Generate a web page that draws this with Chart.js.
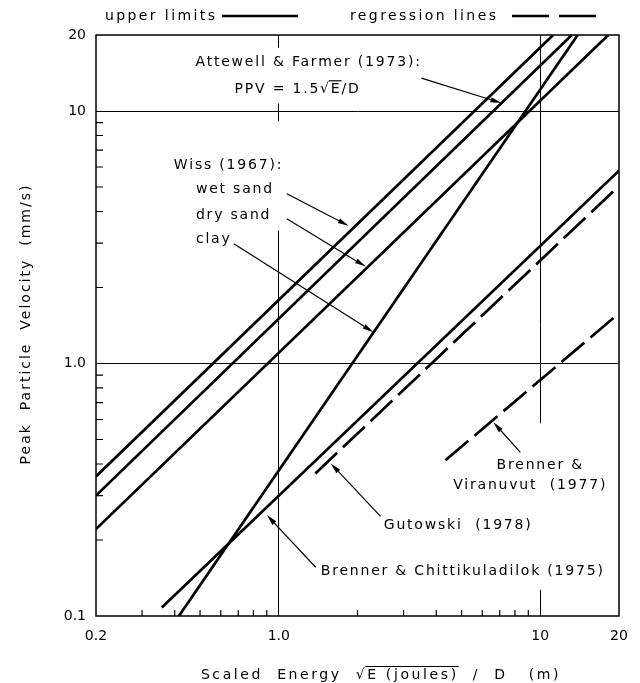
<!DOCTYPE html>
<html>
<head>
<meta charset="utf-8">
<title>Peak Particle Velocity vs Scaled Energy</title>
<script src="https://cdn.jsdelivr.net/npm/chart.js@4"></script>
<style>
  html, body { margin: 0; padding: 0; background: #fff; }
  canvas { display: block; }
</style>
</head>
<body>
<canvas id="chart" width="640" height="683"></canvas>
<script>
const xTickValues = [0.2, 1, 10, 20];
const xTickLabels = ['0.2', '1.0', '10', '20'];
const yTickValues = [0.1, 1, 10, 20];
const yTickLabels = ['0.1', '1.0', '10', '20'];
const xMinorTicks = [0.3, 0.4, 0.5, 0.6, 0.7, 0.8, 0.9, 2, 3, 4, 5, 6, 7, 8, 9];
const yMinorTicks = [0.2, 0.3, 0.4, 0.5, 0.6, 0.7, 0.8, 0.9, 2, 3, 4, 5, 6, 7, 8, 9];

// upper limits (solid lines), end points
const wetSandX = [0.2, 11.2];
const wetSandY = [0.357, 20];
const attewellX = [0.2, 13.2];
const attewellY = [0.3, 20];
const drySandX = [0.2, 18.2];
const drySandY = [0.221, 20];
const clayX = [0.415, 13.9];
const clayY = [0.1, 20];
const chittikuladilokX = [0.357, 20];
const chittikuladilokY = [0.108, 5.8];

// regression lines (dashed)
const gutowskiX = [1.38, 20];
const gutowskiY = [0.367, 5.05];
const viranuvutX = [4.34, 20];
const viranuvutY = [0.414, 1.58];

const FONT = '14px "DejaVu Sans"';
const SPACING = '1.8px';

// text labels, placed in data units
const notes = [
  { text: 'Attewell & Farmer (1973):', x: 1.30, y: 15.8, align: 'center' },
  { text: 'PPV = 1.5√E/D', x: 1.18, y: 12.3, align: 'center', over: 'E' },
  { text: 'Wiss (1967):', x: 0.397, y: 6.18, align: 'left' },
  { text: 'wet sand', x: 0.482, y: 4.96, align: 'left' },
  { text: 'dry sand', x: 0.482, y: 3.92, align: 'left' },
  { text: 'clay', x: 0.482, y: 3.15, align: 'left' },
  { text: 'Brenner &', x: 10.0, y: 0.399, align: 'center' },
  { text: 'Viranuvut  (1977)', x: 9.15, y: 0.332, align: 'center' },
  { text: 'Gutowski  (1978)', x: 2.52, y: 0.231, align: 'left' },
  { text: 'Brenner & Chittikuladilok (1975)', x: 1.447, y: 0.152, align: 'left' }
];

const arrows = [
  { from: [3.51, 13.5], to: [7.1, 10.76] },
  { from: [1.073, 4.70], to: [1.85, 3.51] },
  { from: [1.073, 3.74], to: [2.15, 2.42] },
  { from: [0.673, 2.98], to: [2.3, 1.33] },
  { from: [8.39, 0.445], to: [6.62, 0.585] },
  { from: [2.45, 0.248], to: [1.58, 0.402] },
  { from: [1.384, 0.156], to: [0.90, 0.251] }
];

// breaks in the vertical grid lines behind the labels
const gridGaps = [
  { x: 1, y0: 10.7, y1: 17.8 },
  { x: 1, y0: 3.36, y1: 9.1 },
  { x: 10, y0: 0.127, y1: 0.58 }
];

const pts = (xs, ys) => xs.map((x, i) => ({ x: x, y: ys[i] }));

const solid = (label, xs, ys) => ({
  label: label, data: pts(xs, ys), borderColor: '#000', borderWidth: 2.7,
  pointRadius: 0, fill: false, tension: 0, borderCapStyle: 'butt'
});
const dashed = (label, xs, ys) => ({ ...solid(label, xs, ys), borderDash: [30, 8] });

function toPx(chart, x, y) {
  return { x: chart.scales.x.getPixelForValue(x), y: chart.scales.y.getPixelForValue(y) };
}

function setText(ctx, spacing) {
  ctx.font = FONT;
  ctx.fillStyle = '#000';
  ctx.textBaseline = 'alphabetic';
  ctx.textAlign = 'left';
  if ('letterSpacing' in ctx) ctx.letterSpacing = spacing || SPACING;
}

// writes text with its vertical centre at y; optional overline after the root sign
function writeText(ctx, text, x, y, align, over) {
  const w = ctx.measureText(text).width;
  const left = align === 'center' ? x - w / 2 : x;
  const base = y + 5;
  ctx.fillText(text, left, base);
  if (over) {
    const i = text.indexOf('√') + 1;
    const x0 = left + ctx.measureText(text.slice(0, i)).width - 2;
    const x1 = left + ctx.measureText(text.slice(0, i + over.length)).width;
    ctx.beginPath();
    ctx.lineWidth = 1.2;
    ctx.moveTo(x0, base - 12.5);
    ctx.lineTo(x1, base - 12.5);
    ctx.stroke();
  }
}

function drawArrow(ctx, a, b) {
  const ang = Math.atan2(b.y - a.y, b.x - a.x);
  const len = 11, half = 2.6;
  const bx = b.x - len * Math.cos(ang), by = b.y - len * Math.sin(ang);
  ctx.beginPath();
  ctx.lineWidth = 1.2;
  ctx.moveTo(a.x, a.y);
  ctx.lineTo(bx, by);
  ctx.stroke();
  ctx.beginPath();
  ctx.moveTo(b.x, b.y);
  ctx.lineTo(bx + half * Math.sin(ang), by - half * Math.cos(ang));
  ctx.lineTo(bx - half * Math.sin(ang), by + half * Math.cos(ang));
  ctx.closePath();
  ctx.fill();
}

const notesPlugin = {
  id: 'notes',
  beforeDatasetsDraw(chart) {
    const { ctx } = chart;
    ctx.save();
    ctx.strokeStyle = '#fff';
    ctx.lineWidth = 4;
    ctx.beginPath();
    gridGaps.forEach(g => {
      const a = toPx(chart, g.x, g.y0), b = toPx(chart, g.x, g.y1);
      ctx.moveTo(a.x, a.y);
      ctx.lineTo(b.x, b.y);
    });
    ctx.stroke();
    ctx.restore();
  },
  afterDatasetsDraw(chart) {
    const { ctx, chartArea: area } = chart;
    ctx.save();
    ctx.strokeStyle = '#000';
    ctx.fillStyle = '#000';

    // frame
    ctx.lineWidth = 1.5;
    ctx.strokeRect(area.left, area.top, area.right - area.left, area.bottom - area.top);

    // minor ticks inside bottom and left axes
    ctx.lineWidth = 1.2;
    ctx.beginPath();
    xMinorTicks.forEach(v => {
      const px = chart.scales.x.getPixelForValue(v);
      ctx.moveTo(px, area.bottom);
      ctx.lineTo(px, area.bottom - 6);
    });
    yMinorTicks.forEach(v => {
      const py = chart.scales.y.getPixelForValue(v);
      ctx.moveTo(area.left, py);
      ctx.lineTo(area.left + 7, py);
    });
    ctx.stroke();

    // labels and arrows
    setText(ctx);
    notes.forEach(n => {
      const p = toPx(chart, n.x, n.y);
      writeText(ctx, n.text, p.x, p.y, n.align, n.over);
    });
    arrows.forEach(a => drawArrow(ctx, toPx(chart, a.from[0], a.from[1]), toPx(chart, a.to[0], a.to[1])));

    // key at top
    setText(ctx, '2.4px');
    writeText(ctx, 'upper limits', 105, 15, 'left');
    writeText(ctx, 'regression lines', 350, 15, 'left');
    ctx.lineWidth = 2.5;
    ctx.beginPath();
    ctx.moveTo(222, 16);
    ctx.lineTo(298, 16);
    ctx.stroke();
    ctx.setLineDash([37, 10]);
    ctx.beginPath();
    ctx.moveTo(512, 16);
    ctx.lineTo(596, 16);
    ctx.stroke();
    ctx.setLineDash([]);

    // axis titles
    setText(ctx, '2.6px');
    writeText(ctx, 'Scaled  Energy  √E (joules)  /  D   (m)', 381, 674, 'center', 'E (joules)');
    setText(ctx, '2px');
    ctx.translate(25, 324);
    ctx.rotate(-Math.PI / 2);
    writeText(ctx, 'Peak  Particle  Velocity  (mm/s)', 0, 0, 'center');
    ctx.restore();
  }
};

const gridColor = c => (c.tick && (c.tick.value === 1 || c.tick.value === 10)) ? '#000' : 'rgba(0,0,0,0)';

new Chart(document.getElementById('chart'), {
  type: 'line',
  data: {
    datasets: [
      solid('Wiss (1967): wet sand', wetSandX, wetSandY),
      solid('Attewell & Farmer (1973)', attewellX, attewellY),
      solid('Wiss (1967): dry sand', drySandX, drySandY),
      solid('Wiss (1967): clay', clayX, clayY),
      solid('Brenner & Chittikuladilok (1975)', chittikuladilokX, chittikuladilokY),
      dashed('Gutowski (1978)', gutowskiX, gutowskiY),
      dashed('Brenner & Viranuvut (1977)', viranuvutX, viranuvutY)
    ]
  },
  options: {
    responsive: false,
    animation: false,
    layout: { padding: { left: 0, right: 21, top: 35, bottom: 0 } },
    plugins: { legend: { display: false }, tooltip: { enabled: false } },
    scales: {
      x: {
        type: 'logarithmic',
        min: 0.2,
        max: 20,
        afterFit: s => { s.height = 67; },
        afterBuildTicks: s => { s.ticks = xTickValues.map(v => ({ value: v })); },
        ticks: {
          autoSkip: false,
          maxRotation: 0,
          padding: 12,
          color: '#000',
          font: { family: 'DejaVu Sans', size: 14 },
          callback: v => xTickLabels[xTickValues.indexOf(v)]
        },
        grid: { color: gridColor, lineWidth: 1, drawTicks: false },
        border: { display: false }
      },
      y: {
        type: 'logarithmic',
        min: 0.1,
        max: 20,
        afterFit: s => { s.width = 96; },
        afterBuildTicks: s => { s.ticks = yTickValues.map(v => ({ value: v })); },
        ticks: {
          autoSkip: false,
          padding: 10,
          color: '#000',
          font: { family: 'DejaVu Sans', size: 14 },
          callback: v => yTickLabels[yTickValues.indexOf(v)]
        },
        grid: { color: gridColor, lineWidth: 1, drawTicks: false },
        border: { display: false }
      }
    }
  },
  plugins: [notesPlugin]
});
</script>
</body>
</html>
